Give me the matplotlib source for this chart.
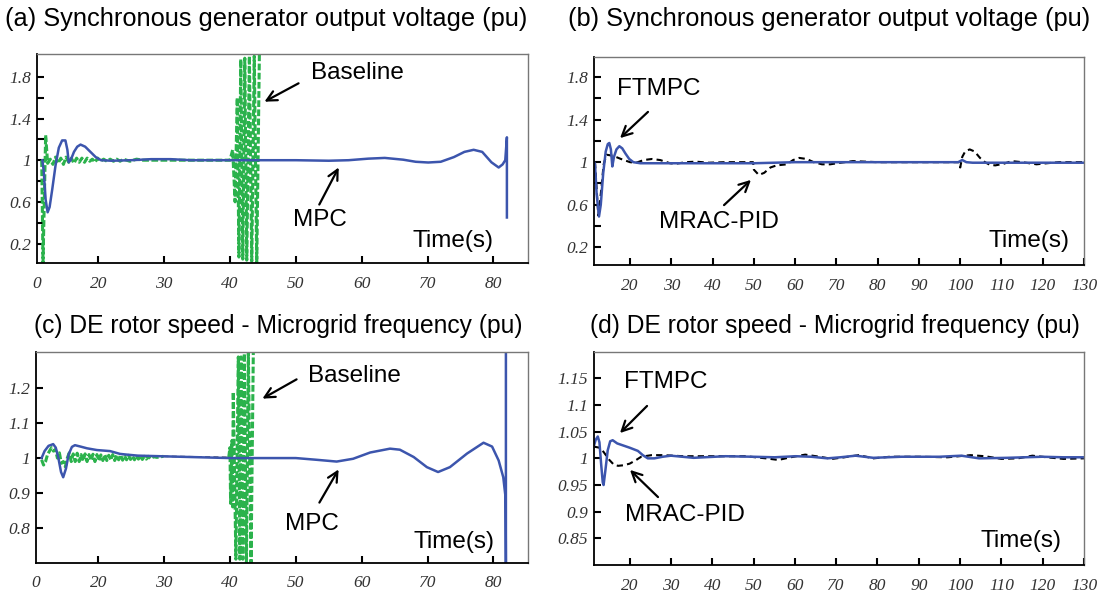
import numpy as np
import matplotlib
matplotlib.use("Agg")
import matplotlib.pyplot as plt

W, H = 1101, 594

# ---- panel (a): synchronous generator voltage, MPC vs baseline ----
a_mpc_t = [11.5, 11.7, 12.0, 12.3, 12.6, 13.0, 13.5, 14.0, 14.5, 15.0, 15.3, 15.5,
           15.8, 16.3, 16.8, 17.3, 18.0, 18.8, 19.6, 20.4, 22, 25, 28, 31, 34, 40,
           50, 55, 58, 61, 63.5, 66.3, 68.2, 70.1, 72, 74, 75.6, 77.0, 78.3, 79.7,
           80.8, 81.4, 81.8, 82.05, 82.05]
a_mpc_v = [1.0, 0.9, 0.62, 0.5, 0.55, 0.72, 0.95, 1.12, 1.19, 1.19, 1.1, 0.98,
           1.0, 1.08, 1.13, 1.15, 1.13, 1.08, 1.03, 1.0, 0.995, 1.0, 1.01, 1.01, 1.0,
           1.0, 1.0, 0.995, 1.0, 1.015, 1.022, 1.005, 0.985, 0.978, 0.985, 1.03,
           1.08, 1.10, 1.08, 0.98, 0.93, 0.96, 1.0, 1.22, 0.45]
a_base_t = [11.4, 11.6, 12.0, 12.3, 12.7, 13.1, 13.5, 13.9, 14.3, 14.7, 15.1, 15.5,
            15.9, 16.3, 16.7, 17.1, 17.5, 17.9, 18.3, 18.7, 19.1, 19.5, 19.9, 20.3,
            20.8, 21.3, 21.8, 22.3, 22.8, 23.3, 23.8, 24.8, 25.8, 26.8, 40.0,
            40.4, 40.77, 41.1, 41.35, 41.63, 41.94, 42.24, 42.54, 42.94, 43.3, 43.68,
            44.06, 44.46]
a_base_v = [1.0, 0.02, 1.24, 0.97, 1.01, 0.96, 1.03, 0.97, 1.02, 0.96, 1.03, 0.98,
            1.02, 0.97, 1.02, 0.98, 1.02, 0.98, 1.02, 0.99, 1.01, 0.98, 1.02, 0.99,
            1.01, 0.99, 1.01, 0.99, 1.01, 0.99, 1.01, 0.99, 1.01, 1.0, 1.0,
            1.1, 0.6, 1.6, 0.07, 1.97, 0.05, 1.98, 0.04, 2.0, 0.03, 2.0, 0.02, 2.02]

# ---- panel (b): synchronous generator voltage, FTMPC vs MRAC-PID ----
b_ft_t = [11.3, 11.5, 11.9, 12.47, 12.9, 13.5, 14.1, 14.6, 14.97, 15.35, 15.7, 16.1,
          16.7, 17.4, 18.1, 18.9, 19.8, 20.8, 22.5, 30, 40, 50, 55, 60, 70, 80, 90,
          99.5, 100.5, 101.5, 103, 110, 120, 130]
b_ft_v = [1.0, 0.98, 0.7, 0.49, 0.6, 0.9, 1.1, 1.17, 1.18, 1.12, 0.96, 1.05, 1.12,
          1.15, 1.13, 1.08, 1.03, 1.0, 0.99, 0.99, 0.99, 0.99, 0.995, 1.0, 1.0, 1.0,
          1.0, 1.0, 1.02, 1.0, 0.995, 0.995, 0.995, 0.995]
b_mr_t = [11.5, 11.9, 12.3, 12.9, 13.6, 14.3, 15.9, 17.8, 20, 21.5, 23.3, 25.3, 27.3,
          29.7, 31, 33.5, 36, 39, 43, 49.8, 50.0, 51.2, 52.5, 54, 55.5, 58, 59.5, 61,
          62.8, 64.5, 66.5, 68.5, 71, 74, 77, 80, 99.8, 100.0, 100.5, 101.2, 102.3,
          103.5, 104.8, 106, 107.2, 108.5, 110.5, 112.5, 115, 118.5, 121, 124, 130]
b_mr_v = [1.0, 0.75, 0.5, 0.7, 0.98, 1.07, 1.06, 1.03, 1.0, 0.995, 1.02, 1.03, 1.02,
          0.99, 0.985, 1.0, 1.005, 0.995, 1.0, 1.0, 0.93, 0.88, 0.9, 0.95, 0.97, 0.98,
          1.02, 1.04, 1.03, 1.0, 0.98, 0.98, 0.995, 1.01, 1.005, 1.0, 1.0, 0.95, 1.05,
          1.1, 1.12, 1.1, 1.04, 1.0, 0.975, 0.97, 0.985, 1.01, 1.0, 0.98, 0.99, 1.0,
          1.0]

# ---- panel (c): DE rotor speed, MPC vs baseline ----
c_mpc_t = [11.4, 11.85, 12.45, 13.16, 13.55, 13.95, 14.35, 14.68, 15.1, 15.5, 16.0,
           16.46, 17.3, 18.3, 19.8, 21.8, 23.3, 24.3, 26, 30, 40, 50, 53.2, 56.2,
           58.7, 61.3, 64.3, 65.8, 67.9, 69.9, 71.6, 73.4, 76.0, 78.5, 79.8, 80.8,
           81.5, 81.85, 81.9, 81.9]
c_mpc_v = [1.0, 1.02, 1.035, 1.04, 1.03, 1.0, 0.96, 0.945, 0.97, 1.01, 1.032, 1.037,
           1.033, 1.028, 1.023, 1.02, 1.012, 1.01, 1.007, 1.005, 1.0, 1.0, 0.995,
           0.99, 0.998, 1.016, 1.027, 1.024, 1.003, 0.974, 0.96, 0.974, 1.013, 1.044,
           1.033, 0.993, 0.945, 0.887, 0.69, 1.32]
c_base_t = [11.4, 11.7, 12.0, 12.3, 12.6, 12.9, 13.2, 13.5, 13.8, 14.1, 14.4, 14.7,
            15.0, 15.3, 15.6, 15.9, 16.2, 16.5, 16.8, 17.1, 17.4, 17.7, 18.0, 18.3,
            18.6, 18.9, 19.2, 19.5, 19.8, 20.1, 20.4, 20.7, 21.0, 21.3, 21.6, 21.9,
            22.2, 22.5, 22.8, 23.1, 23.4, 23.7, 24.0, 24.3, 24.6, 24.9, 25.2, 25.5,
            25.8, 26.1, 26.4, 26.7, 27.0, 27.3, 27.6, 27.9, 28.4, 28.9, 29.9]
c_base_v = [0.995, 0.98, 0.99, 1.01, 1.02, 1.03, 1.02, 1.025, 1.0, 1.015, 0.985,
            0.99, 0.975, 1.0, 1.015, 0.99, 1.012, 0.99, 1.014, 0.99, 1.01, 0.992,
            1.012, 0.99, 1.01, 0.993, 1.011, 0.99, 1.01, 0.992, 1.009, 0.993, 1.01,
            0.993, 1.008, 0.994, 1.01, 0.993, 1.008, 0.995, 1.009, 0.994, 1.007, 0.995,
            1.008, 0.996, 1.006, 0.995, 1.007, 0.997, 1.006, 0.996, 1.005, 0.997,
            1.005, 0.998, 1.004, 1.002, 1.005]
c_gap_t = [29.9, 39.8]
c_gap_v = [1.005, 1.002]
c_burst_t = [39.8, 40.0, 40.1, 40.3, 40.4, 40.5, 40.9, 41.27, 41.5, 41.68, 41.95,
             42.18, 42.5, 42.79, 43.2, 43.55]
c_burst_v = [1.0, 1.03, 0.87, 1.05, 0.86, 1.19, 0.71, 1.29, 0.71, 1.29, 0.71, 1.3,
             0.7, 1.3, 0.7, 1.31]

# ---- panel (d): DE rotor speed, FTMPC vs MRAC-PID ----
d_ft_t = [11.3, 11.8, 12.3, 12.7, 13.1, 13.5, 13.7, 14.1, 14.7, 15.3, 15.9, 17,
          18.5, 20, 21, 22, 23.2, 24.4, 26, 28, 30, 35.5, 43.2, 50, 55.1, 60.2, 64,
          67.9, 71, 74.7, 79, 85.8, 95, 100.3, 104.6, 111.4, 119.9, 125, 130]
d_ft_v = [1.022, 1.035, 1.041, 1.03, 0.99, 0.955, 0.95, 0.975, 1.015, 1.032, 1.034,
          1.028, 1.024, 1.02, 1.017, 1.014, 1.006, 1.0, 1.0, 1.003, 1.005, 1.001,
          1.004, 1.003, 1.002, 1.004, 1.003, 1.0, 1.002, 1.005, 1.001, 1.003, 1.003,
          1.005, 1.0, 1.001, 1.003, 1.002, 1.002]
d_mr_t = [11.3, 12.7, 13.7, 15.1, 16.2, 17.2, 18.5, 20, 21.4, 22.8, 25.3, 28, 33,
          40, 48, 53, 56, 59, 62.5, 66, 69, 72, 75.5, 79, 83, 90, 97, 102.5, 106, 110,
          114, 117.5, 121, 125, 130]
d_mr_v = [1.022, 1.02, 1.012, 0.997, 0.988, 0.986, 0.987, 0.99, 0.996, 1.003,
          1.006, 1.006, 1.004, 1.004, 1.004, 1.0, 0.997, 1.002, 1.007, 1.003, 0.999,
          1.002, 1.006, 1.0, 1.003, 1.003, 1.002, 1.006, 1.004, 0.999, 1.0, 1.005,
          1.002, 0.999, 1.0]

left_xticks = [10.64, 20, 30, 40, 50, 60, 70, 80]
left_xlabels = ["0", "20", "30", "40", "50", "60", "70", "80"]
right_xticks = list(range(20, 131, 10))

BLUE = "#3c55ad"
GREEN = "#2bb24c"
SANS = "Liberation Sans"


def px_box(l, t, r, b):
    return [l / W, 1 - b / H, (r - l) / W, (b - t) / H]


def fp(x, y):
    return (x / W, 1 - y / H)


def style_axis(ax):
    for s in ["left", "bottom"]:
        ax.spines[s].set_color("black")
        ax.spines[s].set_linewidth(1.3)
    for s in ["top", "right"]:
        ax.spines[s].set_color("#777777")
        ax.spines[s].set_linewidth(1.0)
    ax.tick_params(which="both", direction="in", length=5, width=1.5,
                   labelsize=12.5, pad=4)
    ax.tick_params(axis="x", pad=9)
    for lab in ax.get_xticklabels() + ax.get_yticklabels():
        lab.set_fontfamily("Liberation Serif")
        lab.set_fontstyle("italic")
        lab.set_color("#333333")


def note(fig, text, tpos, tip=None, start=None):
    fig.text(*fp(*tpos), text, fontsize=17.5, family=SANS, ha="center", va="center")
    if tip is not None:
        fig.add_artist(matplotlib.patches.FancyArrowPatch(
            fp(*start), fp(*tip), transform=fig.transFigure,
            arrowstyle="->", mutation_scale=18, lw=1.6, color="black"))


fig = plt.figure(figsize=(W / 100, H / 100), dpi=100)

dash_green = dict(color=GREEN, lw=2.2, linestyle=(0, (2.2, 0.8)))
dash_black = dict(color="black", lw=1.5, linestyle=(0, (3, 2)))

# (a)
ax = fig.add_axes(px_box(36.7, 54, 528.3, 263.3))
ax.plot(a_base_t, a_base_v, **dash_green)
ax.plot(a_mpc_t, a_mpc_v, color=BLUE, lw=1.8)
ax.set_xlim(10.64, 85.3)
ax.set_ylim(0.01, 2.02)
ax.set_xticks(left_xticks, left_xlabels)
ax.set_yticks([0.2, 0.6, 1.0, 1.4, 1.8], ["0.2", "0.6", "1", "1.4", "1.8"])
ax.set_yticks(np.arange(0.4, 1.7, 0.4), minor=True)
style_axis(ax)
ax.xaxis.get_major_ticks()[0].tick1line.set_visible(False)

# (b)
ax = fig.add_axes(px_box(594, 56.7, 1084, 265))
ax.plot(b_mr_t, b_mr_v, **dash_black)
ax.plot(b_ft_t, b_ft_v, color=BLUE, lw=1.8)
ax.set_xlim(11.26, 130)
ax.set_ylim(0.035, 1.99)
ax.set_xticks(right_xticks)
ax.set_yticks([0.2, 0.6, 1.0, 1.4, 1.8], ["0.2", "0.6", "1", "1.4", "1.8"])
ax.set_yticks(np.arange(0.4, 1.7, 0.4), minor=True)
style_axis(ax)

# (c)
ax = fig.add_axes(px_box(36, 351.7, 528.3, 562.7))
ax.plot(c_gap_t, c_gap_v, color="#444444", lw=1.2, linestyle=(0, (3, 2)))
ax.plot(c_base_t, c_base_v, **dash_green)
ax.plot(c_burst_t, c_burst_v, **dash_green)
ax.plot(c_mpc_t, c_mpc_v, color=BLUE, lw=1.8)
ax.set_xlim(10.55, 85.3)
ax.set_ylim(0.70, 1.305)
ax.set_xticks([10.55] + left_xticks[1:], left_xlabels)
ax.set_yticks([0.8, 0.9, 1.0, 1.1, 1.2], ["0.8", "0.9", "1", "1.1", "1.2"])
style_axis(ax)
ax.xaxis.get_major_ticks()[0].tick1line.set_visible(False)

# (d)
ax = fig.add_axes(px_box(593.5, 351.7, 1084, 565))
ax.plot(d_mr_t, d_mr_v, **dash_black)
ax.plot(d_ft_t, d_ft_v, color=BLUE, lw=1.8)
ax.set_xlim(11.26, 130)
ax.set_ylim(0.8, 1.2)
ax.set_xticks(right_xticks)
ax.set_yticks([0.85, 0.9, 0.95, 1.0, 1.05, 1.1, 1.15],
              ["0.85", "0.9", "0.95", "1", "1.05", "1.1", "1.15"])
style_axis(ax)

# titles
fig.text(*fp(266, 19), "(a) Synchronous generator output voltage (pu)",
         fontsize=18.3, family=SANS, ha="center", va="center")
fig.text(*fp(829, 19), "(b) Synchronous generator output voltage (pu)",
         fontsize=18.3, family=SANS, ha="center", va="center")
fig.text(*fp(278, 326), "(c) DE rotor speed - Microgrid frequency (pu)",
         fontsize=17.7, family=SANS, ha="center", va="center")
fig.text(*fp(835, 326), "(d) DE rotor speed - Microgrid frequency (pu)",
         fontsize=17.7, family=SANS, ha="center", va="center")

# annotations
note(fig, "Baseline", (357, 73), tip=(262, 103), start=(301, 82))
note(fig, "MPC", (320, 220), tip=(340, 165), start=(318, 207))
note(fig, "Time(s)", (453, 241))
note(fig, "FTMPC", (659, 89), tip=(618, 140), start=(650, 110))
note(fig, "MRAC-PID", (719, 222), tip=(753, 178), start=(722, 207))
note(fig, "Time(s)", (1029, 241))
note(fig, "Baseline", (354, 376), tip=(260, 400), start=(299, 378))
note(fig, "MPC", (312, 524), tip=(340, 467), start=(318, 505))
note(fig, "Time(s)", (454, 542))
note(fig, "FTMPC", (666, 382), tip=(618, 435), start=(649, 404))
note(fig, "MRAC-PID", (685, 515), tip=(628, 468), start=(660, 499))
note(fig, "Time(s)", (1021, 541))

fig.savefig("out.png", dpi=100)
